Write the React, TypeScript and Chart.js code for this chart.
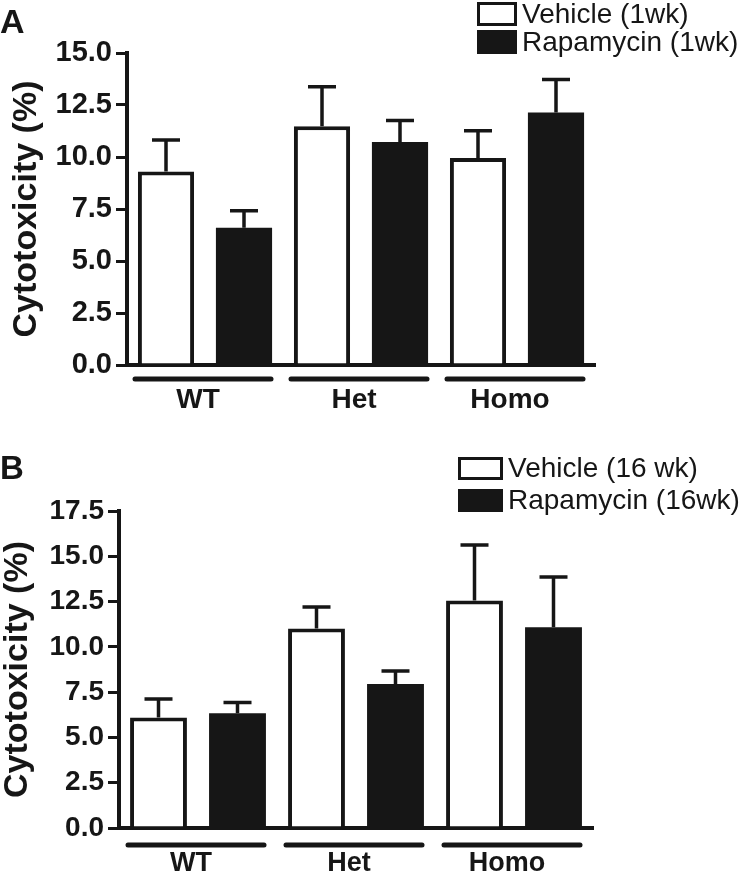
import React, { useEffect, useRef } from 'react';
import { Chart, registerables } from 'chart.js';

Chart.register(...registerables);

// ---------- data ----------
const categories = ['WT', 'Het', 'Homo'];
const yTitle = 'Cytotoxicity (%)';

const seriesNamesA = ['Vehicle (1wk)', 'Rapamycin (1wk)'];
const vehicleA = [9.3, 11.48, 9.95];
const vehicleErrA = [1.52, 1.9, 1.31];
const rapamycinA = [6.6, 10.72, 12.14];
const rapamycinErrA = [0.82, 1.04, 1.58];
const yMaxA = 15;

const seriesNamesB = ['Vehicle (16 wk)', 'Rapamycin (16wk)'];
const vehicleB = [6.1, 11.02, 12.56];
const vehicleErrB = [1.02, 1.18, 3.06];
const rapamycinB = [6.33, 7.95, 11.08];
const rapamycinErrB = [0.6, 0.72, 2.77];
const yMaxB = 17.5;

const yStep = 2.5;

const INK = '#161616';
const FONT = "'Liberation Sans', Arial, Helvetica, sans-serif";

// ---------- plugins ----------
const errorBarPlugin = {
  id: 'errorBars',
  afterDatasetsDraw(chart: any, _args: any, opts: any) {
    const ctx = chart.ctx;
    const y = chart.scales.y;
    ctx.save();
    ctx.strokeStyle = opts.color;
    ctx.lineWidth = opts.lineWidth;
    chart.data.datasets.forEach((ds: any, i: number) => {
      const meta = chart.getDatasetMeta(i);
      meta.data.forEach((el: any, j: number) => {
        const top = y.getPixelForValue(ds.data[j]);
        const end = y.getPixelForValue(ds.data[j] + ds.errors[j]);
        ctx.beginPath();
        ctx.moveTo(el.x, top);
        ctx.lineTo(el.x, end);
        ctx.moveTo(el.x - opts.capHalf, end);
        ctx.lineTo(el.x + opts.capHalf, end);
        ctx.stroke();
      });
    });
    ctx.restore();
  },
};

const groupLinePlugin = {
  id: 'groupLines',
  afterDraw(chart: any, _args: any, opts: any) {
    const ctx = chart.ctx;
    const x = chart.scales.x;
    const yy = chart.chartArea.bottom + opts.offset;
    ctx.save();
    ctx.strokeStyle = opts.color;
    ctx.lineWidth = opts.lineWidth;
    ctx.lineCap = 'round';
    chart.data.labels.forEach((_l: any, j: number) => {
      const c = x.getPixelForValue(j) + opts.shift;
      ctx.beginPath();
      ctx.moveTo(c - opts.halfLen, yy);
      ctx.lineTo(c + opts.halfLen, yy);
      ctx.stroke();
    });
    ctx.restore();
  },
};

const boxLegendPlugin = {
  id: 'boxLegend',
  afterDraw(chart: any, _args: any, opts: any) {
    const ctx = chart.ctx;
    ctx.save();
    chart.data.datasets.forEach((ds: any, i: number) => {
      const top = opts.tops[i];
      ctx.fillStyle = ds.backgroundColor;
      ctx.fillRect(opts.x, top, opts.w, opts.h);
      ctx.strokeStyle = INK;
      ctx.lineWidth = 3;
      ctx.strokeRect(opts.x + 1.5, top + 1.5, opts.w - 3, opts.h - 3);
      ctx.fillStyle = INK;
      ctx.font = opts.font;
      ctx.textAlign = 'left';
      ctx.textBaseline = 'middle';
      ctx.fillText(ds.label, opts.textX, top + opts.h / 2 + 1);
    });
    ctx.restore();
  },
};

// ---------- panel ----------
type PanelProps = {
  top: number;
  height: number;
  names: string[];
  vehicle: number[];
  vehicleErr: number[];
  rapamycin: number[];
  rapamycinErr: number[];
  yMax: number;
  layout: any;
};

function Panel(p: PanelProps) {
  const ref = useRef<HTMLCanvasElement | null>(null);
  useEffect(() => {
    if (!ref.current) return;
    const L = p.layout;
    const chart = new Chart(ref.current, {
      type: 'bar',
      data: {
        labels: categories,
        datasets: [
          {
            label: p.names[0],
            data: p.vehicle,
            errors: p.vehicleErr,
            backgroundColor: '#ffffff',
            borderColor: INK,
            borderWidth: 4,
            borderSkipped: 'bottom',
            barPercentage: 0.72,
            categoryPercentage: 1,
          } as any,
          {
            label: p.names[1],
            data: p.rapamycin,
            errors: p.rapamycinErr,
            backgroundColor: INK,
            borderColor: INK,
            borderWidth: 0,
            barPercentage: 0.72,
            categoryPercentage: 1,
          } as any,
        ],
      },
      options: {
        responsive: false,
        animation: false,
        layout: { padding: { top: L.padTop, right: L.padRight, bottom: 0, left: 0 } },
        plugins: {
          legend: { display: false },
          tooltip: { enabled: false },
          errorBars: { color: INK, lineWidth: 3.5, capHalf: 14 },
          groupLines: { color: INK, lineWidth: 5, offset: L.lineOffset, shift: -2, halfLen: 68 },
          boxLegend: L.legend,
        } as any,
        scales: {
          x: {
            type: 'category',
            z: 1,
            grid: { display: false, drawTicks: false },
            border: { display: true, width: 4, color: INK },
            ticks: {
              color: INK,
              font: { family: FONT, size: L.xFont, weight: 'bold' },
              padding: L.xPad,
              labelOffset: -7,
              maxRotation: 0,
              autoSkip: false,
            },
            afterFit: (s: any) => {
              s.height = L.xHeight;
            },
          },
          y: {
            min: 0,
            max: p.yMax,
            z: 1,
            grid: {
              display: true,
              drawOnChartArea: false,
              drawTicks: true,
              tickLength: 11,
              lineWidth: 3,
              color: INK,
            },
            border: { display: true, width: 4, color: INK },
            ticks: {
              stepSize: yStep,
              color: INK,
              padding: 4,
              font: { family: FONT, size: L.yFont, weight: 'bold' },
              callback: (v: any) => Number(v).toFixed(1),
            },
            title: {
              display: true,
              text: yTitle,
              color: INK,
              font: { family: FONT, size: 34, weight: 'bold' },
              padding: { top: L.titlePad, bottom: 0 },
            },
            afterFit: (s: any) => {
              s.width = L.yWidth;
            },
          },
        },
      } as any,
      plugins: [errorBarPlugin, groupLinePlugin, boxLegendPlugin],
    });
    return () => chart.destroy();
  }, []);
  return (
    <canvas
      ref={ref}
      width={743}
      height={p.height}
      style={{ position: 'absolute', left: 0, top: p.top, width: 743, height: p.height }}
    />
  );
}

const layoutA = {
  padTop: 53,
  padRight: 148,
  yWidth: 127,
  xHeight: 65,
  xPad: 18,
  xFont: 28,
  yFont: 29,
  titlePad: 6,
  lineOffset: 14,
  legend: {
    x: 477,
    w: 40,
    h: 24,
    tops: [2, 30],
    textX: 522,
    font: `normal 28px ${FONT}`,
  },
};

const layoutB = {
  padTop: 71,
  padRight: 150,
  yWidth: 119,
  xHeight: 48,
  xPad: 19,
  xFont: 27,
  yFont: 28,
  titlePad: -3,
  lineOffset: 17,
  legend: {
    x: 458,
    w: 45,
    h: 23,
    tops: [17, 49],
    textX: 508,
    font: `normal 28px ${FONT}`,
  },
};

export default function App() {
  const letter: React.CSSProperties = {
    position: 'absolute',
    left: 0,
    fontFamily: FONT,
    fontWeight: 'bold',
    color: INK,
    lineHeight: 1,
  };
  return (
    <div style={{ position: 'absolute', left: 0, top: 0, width: 743, height: 876, background: '#fff' }}>
      <Panel
        top={0}
        height={430}
        names={seriesNamesA}
        vehicle={vehicleA}
        vehicleErr={vehicleErrA}
        rapamycin={rapamycinA}
        rapamycinErr={rapamycinErrA}
        yMax={yMaxA}
        layout={layoutA}
      />
      <Panel
        top={440}
        height={436}
        names={seriesNamesB}
        vehicle={vehicleB}
        vehicleErr={vehicleErrB}
        rapamycin={rapamycinB}
        rapamycinErr={rapamycinErrB}
        yMax={yMaxB}
        layout={layoutB}
      />
      <div style={{ ...letter, top: 4, fontSize: 34 }}>A</div>
      <div style={{ ...letter, top: 451, fontSize: 33 }}>B</div>
    </div>
  );
}
